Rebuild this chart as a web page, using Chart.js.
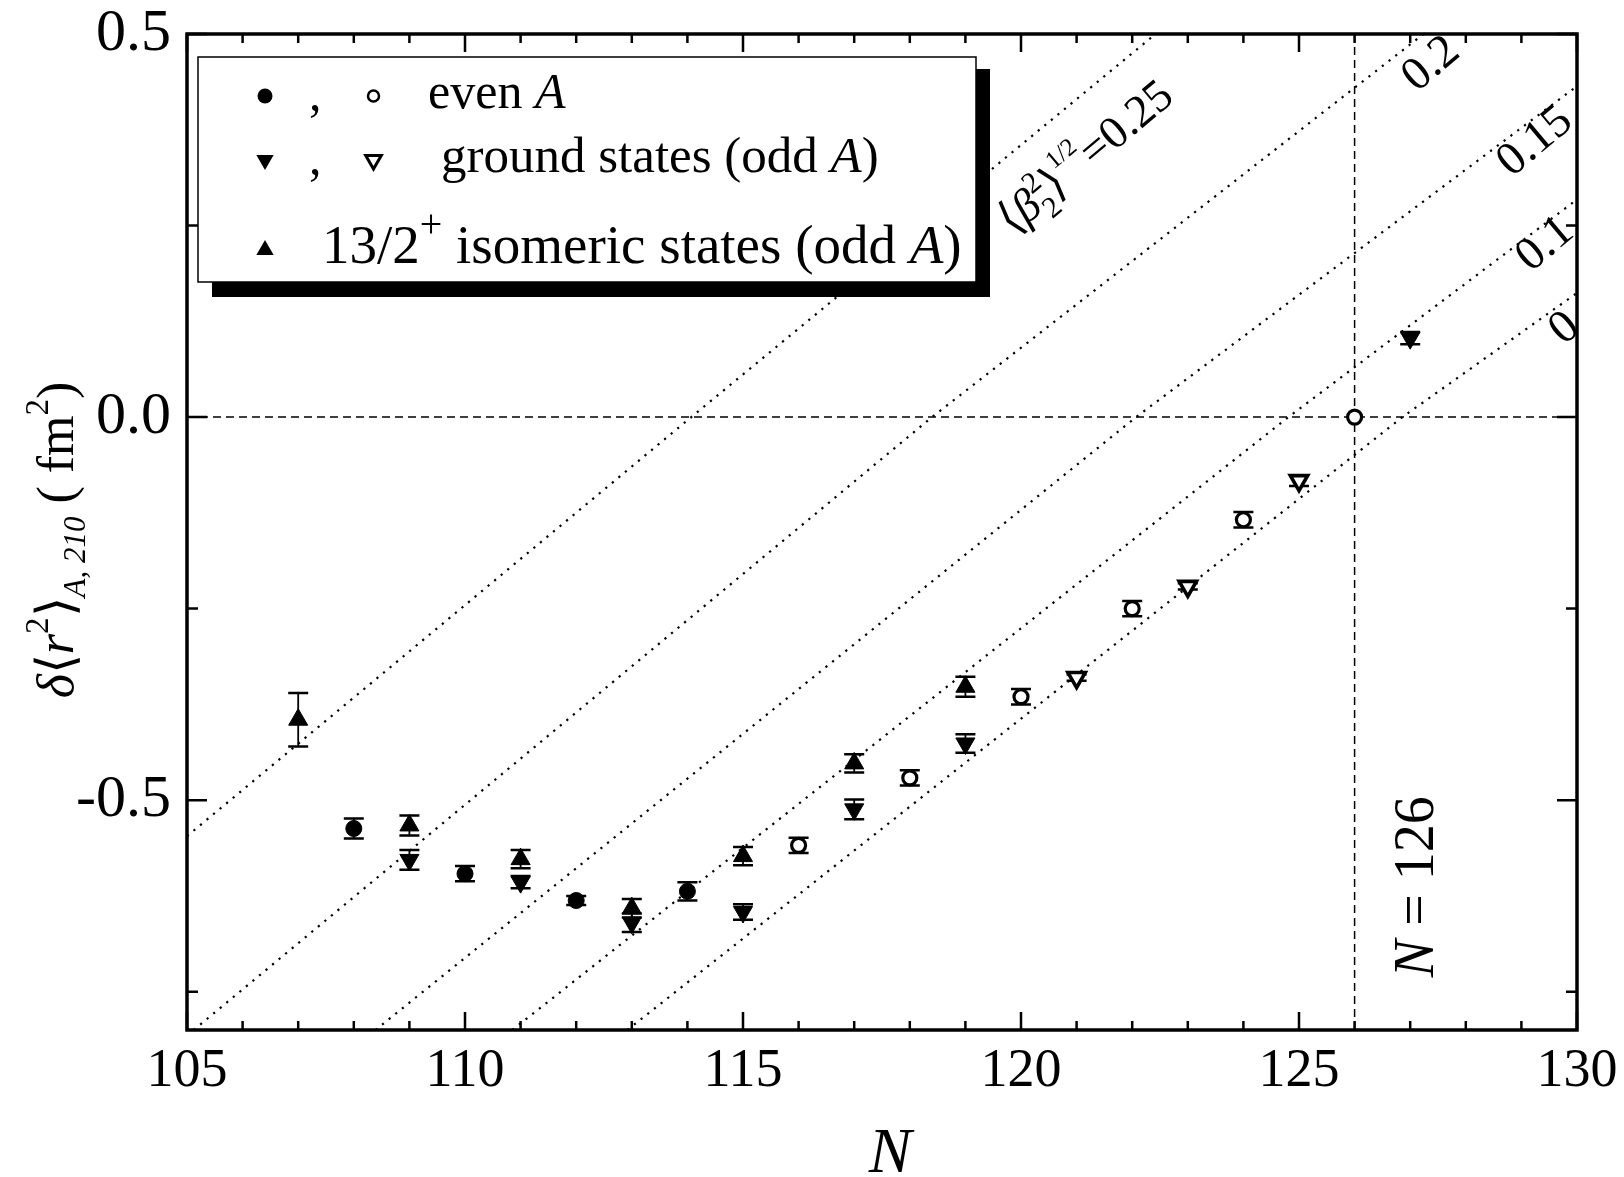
<!DOCTYPE html>
<html>
<head>
<meta charset="utf-8">
<title>Pb charge radii</title>
<script src="https://cdn.jsdelivr.net/npm/chart.js@4.4.1/dist/chart.umd.min.js"></script>
<style>
  html, body { margin: 0; padding: 0; background: #fff; }
  #chart { display: block; }
</style>
</head>
<body>
<canvas id="chart" width="1624" height="1177"></canvas>
<script>
// even A (filled = older data, open = newer)
var evenFilledN = [108, 110, 112, 114];
var evenFilledY = [-0.537, -0.596, -0.631, -0.619];
var evenFilledErr = [0.013, 0.010, 0.006, 0.012];

var evenOpenN = [116, 118, 120, 122, 124, 126];
var evenOpenY = [-0.559, -0.471, -0.365, -0.250, -0.134, 0.0];
var evenOpenErr = [0.010, 0.010, 0.010, 0.010, 0.010, 0];

// ground states, odd A
var groundFilledN = [109, 111, 113, 115, 117, 119, 127];
var groundFilledY = [-0.578, -0.607, -0.660, -0.646, -0.512, -0.426, 0.103];
var groundFilledErr = [0.013, 0.008, 0.012, 0.010, 0.013, 0.012, 0.008];

var groundOpenN = [121, 123, 125];
var groundOpenY = [-0.340, -0.221, -0.083];
var groundOpenErr = [0.004, 0.004, 0.007];

// 13/2+ isomers
var isomerN = [107, 109, 111, 113, 115, 117, 119];
var isomerY = [-0.395, -0.533, -0.577, -0.641, -0.573, -0.452, -0.352];
var isomerErr = [0.035, 0.013, 0.012, 0.012, 0.012, 0.012, 0.013];

// dotted iso-deformation lines <beta2^2>^1/2 = const
var betaLabels = ['0.25', '0.2', '0.15', '0.1', '0'];
var betaLineN = [[105, 114.07, 122.42], [105.12, 118.40, 127.24], [108.39, 122.07, 130], [110.85, 124.81, 130], [112.92, 126.86, 130]];
var betaLineY = [[-0.547, 0, 0.5], [-0.8, 0, 0.5], [-0.8, 0, 0.432], [-0.8, 0, 0.284], [-0.8, 0, 0.162]];
var betaLabelN = [121.15, 127.35, 129.22, 129.4, 129.75];
var betaLabelY = [0.34, 0.463, 0.362, 0.228, 0.118];

var xTickLabels = [105, 110, 115, 120, 125, 130];
var yTickLabels = [-0.5, 0.0, 0.5];
var yMinorTicks = [-0.75, -0.25, 0.25];
var magicN = 126;

var serif = '"Liberation Serif", "Times New Roman", serif';

function pts(xs, ys) {
  return xs.map(function (x, i) { return { x: x, y: ys[i] }; });
}

var datasets = [
  { label: 'even filled', data: pts(evenFilledN, evenFilledY), err: evenFilledErr,
    pointStyle: 'circle', pointRadius: 8, backgroundColor: '#000', borderColor: '#000', borderWidth: 1 },
  { label: 'even open', data: pts(evenOpenN, evenOpenY), err: evenOpenErr,
    pointStyle: 'circle', pointRadius: 7, backgroundColor: '#fff', borderColor: '#000', borderWidth: 3.2 },
  { label: 'gs filled', data: pts(groundFilledN, groundFilledY), err: groundFilledErr,
    pointStyle: 'triangle', pointRotation: 180, pointRadius: 11, backgroundColor: '#000', borderColor: '#000', borderWidth: 1 },
  { label: 'gs open', data: pts(groundOpenN, groundOpenY), err: groundOpenErr,
    pointStyle: 'triangle', pointRotation: 180, pointRadius: 10, backgroundColor: '#fff', borderColor: '#000', borderWidth: 3.6 },
  { label: 'isomer', data: pts(isomerN, isomerY), err: isomerErr,
    pointStyle: 'triangle', pointRotation: 0, pointRadius: 11, backgroundColor: '#000', borderColor: '#000', borderWidth: 1 }
];

// reference dashed lines
datasets.push({ label: 'zero', data: [{ x: 105, y: 0 }, { x: 130, y: 0 }], showLine: true, pointRadius: 0,
  borderColor: '#000', borderWidth: 1.5, borderDash: [8, 5] });
datasets.push({ label: 'N126', data: [{ x: magicN, y: -0.8 }, { x: magicN, y: 0.5 }], showLine: true, pointRadius: 0,
  borderColor: '#000', borderWidth: 1.5, borderDash: [8, 5] });

for (var b = 0; b < betaLabels.length; b++) {
  datasets.push({ label: 'beta ' + betaLabels[b], data: pts(betaLineN[b], betaLineY[b]), showLine: true, pointRadius: 0,
    borderColor: '#000', borderWidth: 2.2, borderDash: [2.2, 6.3] });
}

function richWidth(ctx, segs) {
  var w = 0;
  segs.forEach(function (s) {
    ctx.font = (s.italic ? 'italic ' : '') + s.size + 'px ' + serif;
    if (!s.stack) w += ctx.measureText(s.t).width;
  });
  return w;
}

function drawRich(ctx, segs, x, y, angle, centered, vOff) {
  ctx.save();
  ctx.translate(x, y);
  ctx.rotate(angle);
  ctx.fillStyle = '#000';
  ctx.textAlign = 'left';
  ctx.textBaseline = 'alphabetic';
  var pos = centered ? -richWidth(ctx, segs) / 2 : 0;
  segs.forEach(function (s) {
    ctx.font = (s.italic ? 'italic ' : '') + s.size + 'px ' + serif;
    ctx.fillText(s.t, pos, (s.dy || 0) + (vOff || 0));
    if (!s.stack) pos += ctx.measureText(s.t).width;
  });
  ctx.restore();
}

function triangle(ctx, x, y, r, down) {
  var rad = down ? Math.PI : 0;
  ctx.beginPath();
  for (var k = 0; k < 3; k++) {
    var px = x + Math.sin(rad) * r, py = y - Math.cos(rad) * r;
    if (k === 0) ctx.moveTo(px, py); else ctx.lineTo(px, py);
    rad += 2 * Math.PI / 3;
  }
  ctx.closePath();
}

var decorPlugin = {
  id: 'decor',
  beforeDatasetsDraw: function (chart) {
    // error bars
    var ctx = chart.ctx, xs = chart.scales.x, ys = chart.scales.y;
    ctx.save();
    ctx.strokeStyle = '#000';
    chart.data.datasets.forEach(function (ds) {
      if (!ds.err) return;
      ds.data.forEach(function (p, i) {
        var e = ds.err[i];
        if (!e) return;
        var px = xs.getPixelForValue(p.x);
        var y1 = ys.getPixelForValue(p.y + e), y2 = ys.getPixelForValue(p.y - e);
        ctx.lineWidth = 1.8;
        ctx.beginPath(); ctx.moveTo(px, y1); ctx.lineTo(px, y2); ctx.stroke();
        ctx.lineWidth = 2.5;
        ctx.beginPath();
        ctx.moveTo(px - 10, y1); ctx.lineTo(px + 10, y1);
        ctx.moveTo(px - 10, y2); ctx.lineTo(px + 10, y2);
        ctx.stroke();
      });
    });
    ctx.restore();
  },
  afterDatasetsDraw: function (chart) {
    var ctx = chart.ctx, xs = chart.scales.x, ys = chart.scales.y;
    // legend box with shadow
    ctx.save();
    ctx.fillStyle = '#000';
    ctx.fillRect(212, 69, 778, 228);
    ctx.fillStyle = '#fff';
    ctx.fillRect(198, 57, 778, 225);
    ctx.strokeStyle = '#000';
    ctx.lineWidth = 1.5;
    ctx.strokeRect(198, 57, 778, 225);

    ctx.fillStyle = '#000';
    ctx.beginPath(); ctx.arc(265, 96, 7.5, 0, 2 * Math.PI); ctx.fill();
    ctx.lineWidth = 2.5;
    ctx.beginPath(); ctx.arc(373.5, 96, 5.5, 0, 2 * Math.PI); ctx.stroke();
    triangle(ctx, 265, 160, 10, true); ctx.fill();
    ctx.lineWidth = 3;
    triangle(ctx, 373.5, 160, 9, true); ctx.stroke();
    triangle(ctx, 265, 250, 10, false); ctx.fill();
    ctx.restore();

    drawRich(ctx, [{ t: ',', size: 50 }], 309, 110, 0);
    drawRich(ctx, [{ t: ',', size: 50 }], 309, 174, 0);
    drawRich(ctx, [{ t: 'even ', size: 50 }, { t: 'A', size: 50, italic: true }], 428, 108, 0);
    drawRich(ctx, [{ t: 'ground states (odd ', size: 51 }, { t: 'A', size: 51, italic: true }, { t: ')', size: 51 }], 441, 172, 0);
    drawRich(ctx, [{ t: '13/2', size: 55 }, { t: '+', size: 40, dy: -26 }, { t: ' isomeric states (odd ', size: 55 },
      { t: 'A', size: 55, italic: true }, { t: ')', size: 55 }], 322, 263, 0);

    // labels of the dotted lines
    var ang = -40 * Math.PI / 180;
    drawRich(ctx, [{ t: '\u27E8', size: 46 }, { t: '\u03B2', size: 46, italic: true },
      { t: '2', size: 30, dy: -20, stack: true }, { t: '2', size: 30, dy: 12 },
      { t: '\u27E9', size: 46 }, { t: '1/2', size: 25, dy: -25 }, { t: '=0.25', size: 46 }],
      xs.getPixelForValue(betaLabelN[0]), ys.getPixelForValue(betaLabelY[0]), ang, true, 15);
    for (var i = 1; i < betaLabels.length; i++) {
      drawRich(ctx, [{ t: betaLabels[i], size: 47 }],
        xs.getPixelForValue(betaLabelN[i]), ys.getPixelForValue(betaLabelY[i]), ang, true, 15);
    }
    // N = 126 marker text
    drawRich(ctx, [{ t: 'N', size: 56, italic: true }, { t: ' = ' + magicN, size: 56 }],
      xs.getPixelForValue(127.08), ys.getPixelForValue(-0.613), -Math.PI / 2, true, 18);
  },
  afterDraw: function (chart) {
    var ctx = chart.ctx, a = chart.chartArea, xs = chart.scales.x, ys = chart.scales.y;
    ctx.save();
    ctx.strokeStyle = '#000';
    // inward ticks on all four sides
    ctx.lineWidth = 2.5;
    ctx.beginPath();
    for (var n = xs.min; n <= xs.max; n++) {
      var px = xs.getPixelForValue(n);
      var len = xTickLabels.indexOf(n) >= 0 ? 18 : 9;
      ctx.moveTo(px, a.bottom); ctx.lineTo(px, a.bottom - len);
      ctx.moveTo(px, a.top); ctx.lineTo(px, a.top + len);
    }
    yTickLabels.concat(yMinorTicks).forEach(function (v) {
      var py = ys.getPixelForValue(v);
      var len = yTickLabels.indexOf(v) >= 0 ? 20 : 11;
      ctx.moveTo(a.left, py); ctx.lineTo(a.left + len, py);
      ctx.moveTo(a.right, py); ctx.lineTo(a.right - len, py);
    });
    ctx.stroke();
    // frame
    ctx.lineWidth = 3.5;
    ctx.strokeRect(a.left, a.top, a.right - a.left, a.bottom - a.top);
    ctx.restore();

    // axis titles
    drawRich(ctx, [{ t: 'N', size: 64, italic: true }], (a.left + a.right) / 2 + 8, 1172, 0, true, 0);
    drawRich(ctx, [{ t: '\u03B4', size: 52, italic: true }, { t: '\u27E8', size: 52 }, { t: 'r', size: 52, italic: true },
      { t: '2', size: 33, dy: -25 }, { t: '\u27E9', size: 52 }, { t: 'A, 210', size: 31, italic: true, dy: 12 },
      { t: ' ( fm', size: 52 }, { t: '2', size: 33, dy: -25 }, { t: ')', size: 52 }],
      73, 540, -Math.PI / 2, true, 0);
  }
};

var chart = new Chart(document.getElementById('chart'), {
  type: 'scatter',
  data: { datasets: datasets },
  options: {
    responsive: false,
    animation: false,
    events: [],
    layout: { padding: { top: 34, right: 47, left: 0, bottom: 0 } },
    plugins: { legend: { display: false }, tooltip: { enabled: false } },
    scales: {
      x: {
        type: 'linear', min: 105, max: 130,
        grid: { display: false, drawTicks: false },
        border: { display: false },
        afterFit: function (s) { s.height = 147; s.paddingLeft = 0; s.paddingRight = 0; },
        afterBuildTicks: function (s) { s.ticks = xTickLabels.map(function (v) { return { value: v }; }); },
        ticks: { color: '#000', font: { family: serif, size: 54 }, padding: 9, maxRotation: 0, autoSkip: false,
          callback: function (v) { return String(v); } }
      },
      y: {
        type: 'linear', min: -0.8, max: 0.5,
        grid: { display: false, drawTicks: false },
        border: { display: false },
        afterFit: function (s) { s.width = 187; s.paddingTop = 0; s.paddingBottom = 0; },
        afterBuildTicks: function (s) { s.ticks = yTickLabels.map(function (v) { return { value: v }; }); },
        ticks: { color: '#000', font: { family: serif, size: 60 }, padding: 16, autoSkip: false,
          callback: function (v) { return v.toFixed(1); } }
      }
    }
  },
  plugins: [decorPlugin]
});
</script>
</body>
</html>
